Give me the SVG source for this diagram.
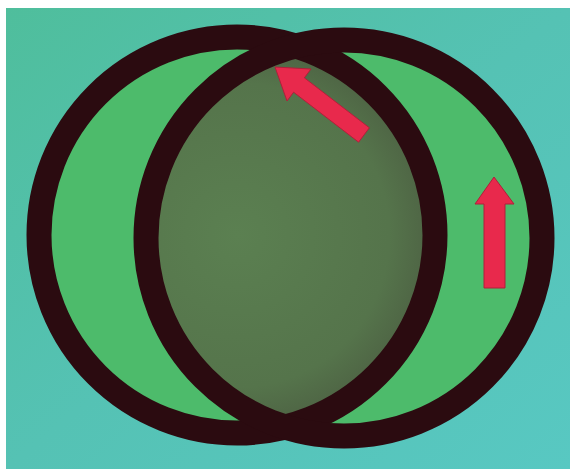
<svg xmlns="http://www.w3.org/2000/svg" width="570" height="469" viewBox="0 0 570 469">
  <defs>
    <linearGradient id="bg" x1="0" y1="0" x2="1" y2="1">
      <stop offset="0" stop-color="#4fbe9c"/>
      <stop offset="0.5" stop-color="#55c2b4"/>
      <stop offset="1" stop-color="#58c8c2"/>
    </linearGradient>
    <radialGradient id="lensfill" cx="0.5" cy="0.5" r="0.55">
      <stop offset="0" stop-color="#5b8051"/>
      <stop offset="0.7" stop-color="#55744b"/>
      <stop offset="1" stop-color="#4a5a40"/>
    </radialGradient>
    <clipPath id="rightClip">
      <circle cx="344" cy="238" r="198"/>
    </clipPath>
  </defs>
  <style>
    .ring { fill: none; stroke: #2b0b10; stroke-width: 25; }
    .crescent { fill: #4dbb6b; }
    .arrow { fill: #e8294c; stroke: #b0203a; stroke-width: 1; stroke-linejoin: miter; }
  </style>
  <rect x="0" y="0" width="570" height="469" fill="#ffffff"/>
  <rect x="6" y="8" width="564" height="461" fill="url(#bg)"/>
  <g id="left-circle-fill">
    <circle class="crescent" cx="237" cy="235" r="198"/>
  </g>
  <g id="right-circle-fill">
    <circle class="crescent" cx="344" cy="238" r="198"/>
  </g>
  <g id="lens">
    <circle cx="237" cy="235" r="198" fill="url(#lensfill)" clip-path="url(#rightClip)"/>
  </g>
  <g id="rings">
    <circle class="ring" cx="237" cy="235" r="198"/>
    <circle class="ring" cx="344" cy="238" r="198"/>
  </g>
  <g id="arrow-diagonal">
    <polygon class="arrow" points="275,67 311,69 304.4,77.8 369.4,127.8 358.6,142.2 293.6,92.2 287,101"/>
  </g>
  <g id="arrow-vertical">
    <polygon class="arrow" points="494,177 514,204 505,204 505,288 484,288 484,204 475,204"/>
  </g>
</svg>
